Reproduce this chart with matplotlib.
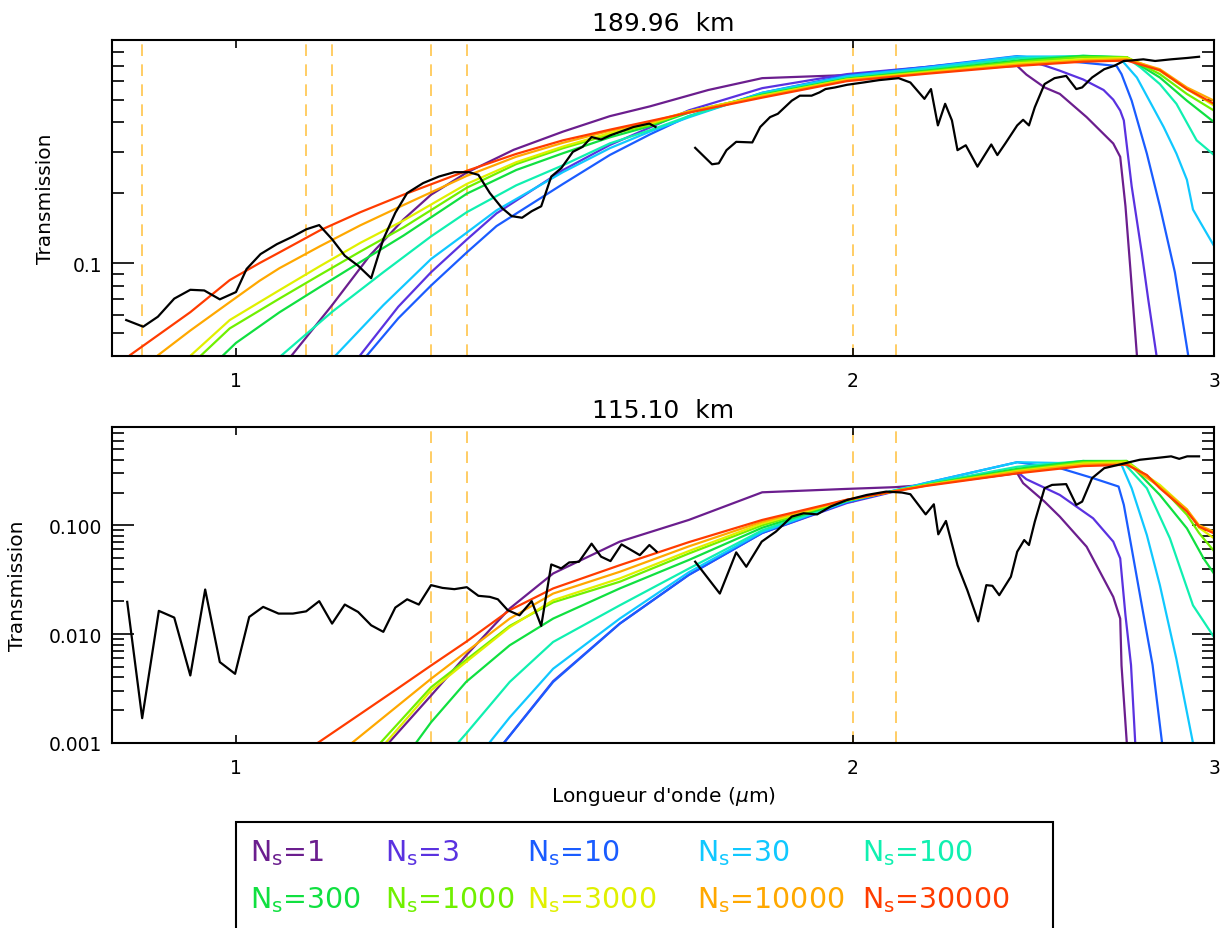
import numpy as np
import matplotlib
matplotlib.use("Agg")
import matplotlib.pyplot as plt
from matplotlib.ticker import FixedLocator, NullLocator, NullFormatter, FixedFormatter
from matplotlib.patches import Rectangle

plt.rcParams['font.family'] = ['DejaVu Sans']

# ---------------- data : top panel (189.96 km) ----------------
top_obs1_wl = [0.884, 0.901, 0.916, 0.933, 0.950, 0.965, 0.982, 1.000, 1.012, 1.028, 1.047, 1.066, 1.082, 1.098,
               1.114, 1.130, 1.147, 1.164, 1.180, 1.196, 1.212, 1.234, 1.256, 1.278, 1.299, 1.313, 1.330, 1.348,
               1.363, 1.379, 1.394, 1.409, 1.425, 1.441, 1.460, 1.476, 1.491, 1.507, 1.523, 1.563, 1.591, 1.602]
top_obs1_t = [0.0570, 0.0534, 0.0589, 0.0704, 0.0768, 0.0763, 0.0699, 0.0751, 0.0943, 0.1092, 0.1204, 0.1298, 0.1393,
              0.1453, 0.1264, 0.1074, 0.0974, 0.0861, 0.1264, 0.164, 0.1992, 0.2198, 0.2344, 0.2447, 0.2447, 0.2383,
              0.1992, 0.1722, 0.1587, 0.1562, 0.1666, 0.1749, 0.2344, 0.2544, 0.299, 0.314, 0.346, 0.3376, 0.352,
              0.382, 0.395, 0.382]
top_obs2_wl = [1.675, 1.707, 1.720, 1.735, 1.754, 1.786, 1.802, 1.822, 1.838, 1.867, 1.884, 1.909, 1.926, 1.939,
               1.960, 1.987, 2.023, 2.059, 2.105, 2.133, 2.167, 2.183, 2.200, 2.218, 2.235, 2.249, 2.270, 2.300,
               2.336, 2.352, 2.373, 2.405, 2.421, 2.437, 2.453, 2.480, 2.508, 2.541, 2.570, 2.587, 2.616, 2.652,
               2.681, 2.711, 2.735, 2.771, 2.808, 2.859, 2.911, 2.950]
top_obs2_t = [0.311, 0.2645, 0.267, 0.304, 0.33, 0.328, 0.382, 0.421, 0.435, 0.495, 0.52, 0.52, 0.537, 0.555,
              0.564, 0.579, 0.592, 0.606, 0.618, 0.592, 0.504, 0.555, 0.388, 0.48, 0.4075, 0.304, 0.319, 0.2584,
              0.3215, 0.2896, 0.3246, 0.388, 0.410, 0.388, 0.464, 0.583, 0.618, 0.632, 0.555, 0.564, 0.622, 0.675,
              0.697, 0.732, 0.736, 0.744, 0.732, 0.744, 0.754, 0.763]

top_n1_wl = [1.065, 1.114, 1.162, 1.207, 1.245, 1.296, 1.366, 1.444, 1.522, 1.592, 1.7, 1.806, 1.986, 2.171,
             2.405, 2.43, 2.48, 2.523, 2.6, 2.679, 2.70, 2.716, 2.731, 2.751]
top_n1_t = [0.0404, 0.066, 0.1074, 0.1536, 0.196, 0.2438, 0.305, 0.365, 0.425, 0.468, 0.55, 0.618, 0.637, 0.665,
            0.697, 0.64, 0.564, 0.529, 0.421, 0.3246, 0.2846, 0.175, 0.0943, 0.0405]
top_n3_wl = [1.150, 1.2, 1.245, 1.296, 1.34, 1.444, 1.522, 1.592, 1.663, 1.806, 1.986, 2.171, 2.405, 2.48, 2.523,
             2.59, 2.65, 2.679, 2.70, 2.711, 2.735, 2.766, 2.786, 2.812]
top_n3_t = [0.0404, 0.065, 0.0913, 0.126, 0.163, 0.25, 0.32, 0.38, 0.45, 0.56, 0.643, 0.69, 0.756, 0.70, 0.665,
            0.61, 0.55, 0.50, 0.449, 0.4075, 0.213, 0.111, 0.0704, 0.0405]
top_n10_wl = [1.159, 1.2, 1.245, 1.296, 1.34, 1.444, 1.522, 1.592, 1.663, 1.806, 1.986, 2.171, 2.405, 2.52, 2.59,
              2.689, 2.704, 2.735, 2.782, 2.823, 2.871, 2.914]
top_n10_t = [0.0404, 0.058, 0.0801, 0.111, 0.1439, 0.218, 0.29, 0.355, 0.425, 0.535, 0.635, 0.69, 0.768, 0.735,
             0.72, 0.697, 0.643, 0.495, 0.294, 0.175, 0.0913, 0.0405]
top_n30_wl = [1.119, 1.18, 1.245, 1.296, 1.34, 1.444, 1.522, 1.592, 1.663, 1.806, 1.986, 2.171, 2.405, 2.59, 2.70,
              2.751, 2.79, 2.835, 2.876, 2.91, 2.93, 2.955, 3.0]
top_n30_t = [0.0404, 0.066, 0.104, 0.1349, 0.168, 0.245, 0.31, 0.365, 0.42, 0.535, 0.63, 0.685, 0.765, 0.765, 0.75,
             0.622, 0.495, 0.382, 0.294, 0.2272, 0.1694, 0.1487, 0.1184]
top_n100_wl = [1.053, 1.114, 1.18, 1.245, 1.296, 1.37, 1.444, 1.522, 1.592, 1.663, 1.806, 1.986, 2.171, 2.405,
               2.59, 2.72, 2.763, 2.823, 2.876, 2.942, 3.0]
top_n100_t = [0.0404, 0.0618, 0.0913, 0.13, 0.165, 0.215, 0.262, 0.325, 0.37, 0.425, 0.53, 0.62, 0.675, 0.75,
              0.77, 0.756, 0.685, 0.583, 0.48, 0.335, 0.29]
top_n300_wl = [0.986, 1.0, 1.05, 1.099, 1.15, 1.207, 1.296, 1.37, 1.444, 1.522, 1.592, 1.663, 1.806, 1.986, 2.171,
               2.405, 2.59, 2.72, 2.823, 2.91, 3.0]
top_n300_t = [0.0404, 0.0455, 0.0615, 0.079, 0.101, 0.131, 0.198, 0.25, 0.295, 0.345, 0.385, 0.44, 0.525, 0.615,
              0.665, 0.735, 0.77, 0.76, 0.622, 0.495, 0.401]
top_n1000_wl = [0.962, 0.993, 1.05, 1.099, 1.15, 1.207, 1.296, 1.37, 1.444, 1.522, 1.592, 1.663, 1.806, 1.986,
                2.171, 2.405, 2.59, 2.72, 2.823, 2.91, 3.0]
top_n1000_t = [0.0404, 0.0525, 0.0704, 0.089, 0.112, 0.142, 0.21, 0.265, 0.31, 0.355, 0.39, 0.445, 0.52, 0.61,
               0.66, 0.725, 0.76, 0.76, 0.643, 0.529, 0.449]
top_n3000_wl = [0.951, 0.993, 1.05, 1.099, 1.15, 1.207, 1.296, 1.37, 1.444, 1.522, 1.592, 1.663, 1.806, 1.986,
                2.171, 2.405, 2.59, 2.72, 2.823, 2.91, 3.0]
top_n3000_t = [0.0404, 0.057, 0.0765, 0.097, 0.122, 0.152, 0.218, 0.27, 0.315, 0.36, 0.395, 0.445, 0.52, 0.61,
               0.655, 0.715, 0.745, 0.755, 0.664, 0.555, 0.472]
top_n10000_wl = [0.9165, 0.95, 0.993, 1.027, 1.05, 1.099, 1.15, 1.207, 1.296, 1.37, 1.444, 1.522, 1.592, 1.663,
                 1.806, 1.986, 2.171, 2.405, 2.59, 2.72, 2.823, 2.91, 3.0]
top_n10000_t = [0.0404, 0.0514, 0.068, 0.084, 0.095, 0.118, 0.145, 0.177, 0.236, 0.285, 0.327, 0.368, 0.40,
                0.445, 0.515, 0.605, 0.65, 0.705, 0.735, 0.745, 0.675, 0.564, 0.495]
top_n30000_wl = [0.888, 0.95, 0.993, 1.027, 1.05, 1.099, 1.15, 1.207, 1.296, 1.37, 1.444, 1.522, 1.592, 1.663,
                 1.806, 1.986, 2.171, 2.405, 2.59, 2.72, 2.823, 2.91, 3.0]
top_n30000_t = [0.0404, 0.0616, 0.0845, 0.1, 0.111, 0.138, 0.165, 0.196, 0.248, 0.293, 0.335, 0.372, 0.405,
                0.44, 0.51, 0.60, 0.645, 0.697, 0.727, 0.735, 0.668, 0.555, 0.48]

# ---------------- data : bottom panel (115.10 km) ----------------
bot_obs1_wl = [0.885, 0.900, 0.917, 0.933, 0.950, 0.966, 0.982, 0.999, 1.015, 1.031, 1.049, 1.066, 1.082, 1.098,
               1.114, 1.130, 1.147, 1.164, 1.180, 1.196, 1.212, 1.228, 1.245, 1.261, 1.278, 1.296, 1.313, 1.330,
               1.342, 1.357, 1.375, 1.394, 1.409, 1.425, 1.441, 1.454, 1.470, 1.491, 1.507, 1.523, 1.542, 1.574,
               1.591, 1.604]
bot_obs1_t = [0.0198, 0.00169, 0.01637, 0.0142, 0.00417, 0.0257, 0.00554, 0.00432, 0.0144, 0.0178, 0.01545,
              0.01545, 0.0162, 0.0201, 0.0125, 0.0187, 0.016, 0.01206, 0.0105, 0.01755, 0.0209, 0.0187, 0.0282,
              0.0266, 0.0259, 0.0270, 0.0225, 0.022, 0.0209, 0.0166, 0.0149, 0.0201, 0.0119, 0.0437, 0.0402,
              0.0456, 0.0462, 0.0678, 0.0515, 0.0469, 0.0668, 0.0532, 0.0659, 0.0573]
bot_obs2_wl = [1.675, 1.722, 1.754, 1.774, 1.805, 1.834, 1.867, 1.892, 1.921, 1.950, 1.987, 2.031, 2.076, 2.113,
               2.133, 2.170, 2.190, 2.201, 2.220, 2.249, 2.274, 2.302, 2.323, 2.339, 2.357, 2.388, 2.405, 2.424,
               2.437, 2.453, 2.480, 2.501, 2.541, 2.570, 2.587, 2.616, 2.652, 2.687, 2.717, 2.760, 2.808, 2.859,
               2.885, 2.911, 2.950]
bot_obs2_t = [0.0463, 0.0236, 0.0564, 0.0416, 0.0708, 0.0875, 0.1203, 0.129, 0.126, 0.1486, 0.171, 0.190, 0.204,
              0.20, 0.193, 0.126, 0.156, 0.0826, 0.1096, 0.043, 0.0253, 0.0131, 0.0282, 0.0278, 0.0228, 0.0337,
              0.0572, 0.0732, 0.0659, 0.108, 0.219, 0.235, 0.239, 0.154, 0.165, 0.271, 0.335, 0.355, 0.373, 0.40,
              0.414, 0.43, 0.408, 0.43, 0.43]

bot_n1_wl = [1.187, 1.245, 1.295, 1.36, 1.428, 1.539, 1.663, 1.806, 1.986, 2.096, 2.171, 2.405, 2.421, 2.48,
             2.523, 2.6, 2.679, 2.70, 2.704, 2.72]
bot_n1_t = [0.001, 0.00273, 0.00638, 0.0172, 0.0361, 0.0708, 0.112, 0.201, 0.216, 0.224, 0.235, 0.301, 0.244,
            0.165, 0.12, 0.0636, 0.022, 0.0139, 0.00515, 0.00101]
bot_n3_wl = [1.351, 1.428, 1.539, 1.663, 1.806, 1.986, 2.171, 2.405, 2.43, 2.523, 2.619, 2.679, 2.70, 2.716,
             2.733, 2.746]
bot_n3_t = [0.001, 0.0037, 0.0125, 0.035, 0.085, 0.16, 0.24, 0.31, 0.265, 0.19, 0.116, 0.0708, 0.0497, 0.0149,
            0.0052, 0.001]
bot_n10_wl = [1.351, 1.428, 1.539, 1.663, 1.806, 1.986, 2.171, 2.405, 2.523, 2.619, 2.695, 2.711, 2.735, 2.77,
              2.80, 2.83]
bot_n10_t = [0.001, 0.00364, 0.0125, 0.035, 0.085, 0.163, 0.245, 0.38, 0.335, 0.271, 0.227, 0.154, 0.0614,
             0.016, 0.0052, 0.001]
bot_n30_wl = [1.329, 1.36, 1.428, 1.539, 1.663, 1.806, 1.986, 2.171, 2.405, 2.59, 2.704, 2.735, 2.782, 2.823,
              2.876, 2.93]
bot_n30_t = [0.001, 0.00172, 0.00481, 0.0139, 0.037, 0.087, 0.165, 0.245, 0.38, 0.37, 0.36, 0.219, 0.0814,
             0.0282, 0.0059, 0.001]
bot_n100_wl = [1.283, 1.295, 1.36, 1.428, 1.539, 1.663, 1.806, 1.986, 2.171, 2.405, 2.59, 2.716, 2.782, 2.855,
               2.93, 3.0]
bot_n100_t = [0.001, 0.00122, 0.00364, 0.00848, 0.0184, 0.04, 0.09, 0.167, 0.24, 0.345, 0.39, 0.36, 0.219,
              0.076, 0.0184, 0.0094]
bot_n300_wl = [1.224, 1.245, 1.295, 1.36, 1.428, 1.539, 1.663, 1.806, 1.986, 2.171, 2.405, 2.59, 2.72, 2.823,
               2.91, 2.965, 3.0]
bot_n300_t = [0.001, 0.00155, 0.00364, 0.0079, 0.0139, 0.0263, 0.048, 0.095, 0.168, 0.236, 0.33, 0.39, 0.39,
              0.19, 0.0938, 0.0497, 0.036]
bot_n1000_wl = [1.176, 1.245, 1.295, 1.36, 1.428, 1.539, 1.663, 1.806, 1.986, 2.171, 2.405, 2.59, 2.72, 2.823,
                2.91, 2.95, 3.0]
bot_n1000_t = [0.001, 0.00325, 0.0058, 0.0119, 0.0196, 0.0303, 0.055, 0.10, 0.17, 0.235, 0.32, 0.38, 0.39,
               0.23, 0.125, 0.085, 0.058]
bot_n3000_wl = [1.183, 1.245, 1.295, 1.36, 1.428, 1.539, 1.663, 1.806, 1.986, 2.171, 2.405, 2.59, 2.72, 2.823,
                2.91, 2.95, 3.0]
bot_n3000_t = [0.001, 0.00304, 0.00555, 0.0116, 0.0205, 0.0325, 0.058, 0.104, 0.17, 0.233, 0.315, 0.37, 0.38,
               0.235, 0.14, 0.095, 0.076]
bot_n10000_wl = [1.139, 1.245, 1.295, 1.36, 1.428, 1.539, 1.663, 1.806, 1.986, 2.171, 2.405, 2.59, 2.72, 2.823,
                 2.91, 2.95, 3.0]
bot_n10000_t = [0.001, 0.00389, 0.00686, 0.0139, 0.0236, 0.0374, 0.064, 0.108, 0.171, 0.232, 0.31, 0.36, 0.37,
                0.225, 0.14, 0.10, 0.0875]
bot_n30000_wl = [1.096, 1.15, 1.196, 1.245, 1.295, 1.36, 1.428, 1.539, 1.663, 1.806, 1.986, 2.171, 2.405, 2.59,
                 2.72, 2.782, 2.823, 2.91, 2.95, 3.0]
bot_n30000_t = [0.001, 0.00185, 0.00306, 0.00515, 0.0085, 0.0166, 0.0263, 0.043, 0.07, 0.112, 0.172, 0.23, 0.30,
                0.35, 0.36, 0.29, 0.219, 0.134, 0.097, 0.0844]

ns_labels = ['1', '3', '10', '30', '100', '300', '1000', '3000', '10000', '30000']
ns_colors = ['#6b1e8e', '#5a32e0', '#1a5cff', '#10c8ff', '#10f0b0',
             '#10e040', '#70f000', '#e0f000', '#ffa800', '#ff3c00']

top_dash_wl = [0.90, 1.082, 1.114, 1.245, 1.296, 2.0, 2.1]
bot_dash_wl = [1.245, 1.296, 2.0, 2.1]

top_models = [(top_n1_wl, top_n1_t), (top_n3_wl, top_n3_t), (top_n10_wl, top_n10_t), (top_n30_wl, top_n30_t),
              (top_n100_wl, top_n100_t), (top_n300_wl, top_n300_t), (top_n1000_wl, top_n1000_t),
              (top_n3000_wl, top_n3000_t), (top_n10000_wl, top_n10000_t), (top_n30000_wl, top_n30000_t)]
bot_models = [(bot_n1_wl, bot_n1_t), (bot_n3_wl, bot_n3_t), (bot_n10_wl, bot_n10_t), (bot_n30_wl, bot_n30_t),
              (bot_n100_wl, bot_n100_t), (bot_n300_wl, bot_n300_t), (bot_n1000_wl, bot_n1000_t),
              (bot_n3000_wl, bot_n3000_t), (bot_n10000_wl, bot_n10000_t), (bot_n30000_wl, bot_n30000_t)]

W, H = 1228, 929
fig = plt.figure(figsize=(W / 100, H / 100), dpi=100)
fig.patch.set_facecolor('white')

def fx(px):
    return px / W

def fy(py):
    return 1 - py / H

ax1 = fig.add_axes([fx(112), fy(357), fx(1214) - fx(112), fy(41) - fy(357)])
ax2 = fig.add_axes([fx(112), fy(744), fx(1214) - fx(112), fy(428) - fy(744)])

dash_color = '#ffc54a'

def style(ax, ylim, majors, major_labels, minors, title, label_x):
    ax.set_xscale('log')
    ax.set_yscale('log')
    ax.set_xlim(0.87, 3.0)
    ax.set_ylim(*ylim)
    ax.xaxis.set_major_locator(FixedLocator([1, 2, 3]))
    ax.xaxis.set_major_formatter(FixedFormatter(['1', '2', '3']))
    ax.xaxis.set_minor_locator(NullLocator())
    ax.yaxis.set_major_locator(FixedLocator(majors))
    ax.yaxis.set_major_formatter(FixedFormatter(major_labels))
    ax.yaxis.set_minor_locator(FixedLocator(minors))
    ax.yaxis.set_minor_formatter(NullFormatter())
    ax.tick_params(axis='x', which='major', direction='in', length=6, width=1.2,
                   top=True, bottom=True, labelsize=13.5, pad=11)
    ax.tick_params(axis='y', which='major', direction='in', length=16, width=1.2,
                   left=True, right=True, labelsize=13.5, pad=7)
    ax.tick_params(axis='y', which='minor', direction='in', length=8.5, width=1.2,
                   left=True, right=True)
    for s in ax.spines.values():
        s.set_linewidth(1.5)
    ax.set_title(title, fontsize=18, pad=7)
    ax.set_ylabel('Transmission', fontsize=14.5)
    ax.yaxis.set_label_coords(label_x, 0.5)

top_minors = [0.05, 0.06, 0.07, 0.08, 0.09, 0.2, 0.3, 0.4, 0.5, 0.6, 0.7, 0.8]
bot_minors = [m * d for d in (0.001, 0.01, 0.1) for m in range(2, 10) if m * d < 0.8]

style(ax1, (0.04, 0.9), [0.1], ['0.1'], top_minors, '189.96  km', -0.052)
style(ax2, (0.001, 0.8), [0.001, 0.01, 0.1], ['0.001', '0.010', '0.100'], bot_minors, '115.10  km', -0.077)

for ax, dashes in ((ax1, top_dash_wl), (ax2, bot_dash_wl)):
    for w in dashes:
        ax.axvline(w, color=dash_color, lw=1.2, ls=(0, (7, 5)), zorder=1)

for ax, models in ((ax1, top_models), (ax2, bot_models)):
    for (wl, t), c in zip(models, ns_colors):
        ax.plot(wl, t, color=c, lw=1.6, zorder=2, solid_joinstyle='round')

ax1.plot(top_obs1_wl, top_obs1_t, color='black', lw=1.6, zorder=3)
ax1.plot(top_obs2_wl, top_obs2_t, color='black', lw=1.6, zorder=3)
ax2.plot(bot_obs1_wl, bot_obs1_t, color='black', lw=1.6, zorder=3)
ax2.plot(bot_obs2_wl, bot_obs2_t, color='black', lw=1.6, zorder=3)

fig.text(fx(663), fy(797), r"Longueur d'onde ($\mu$m)", fontsize=14.5, ha='center', va='center')

# legend box
fig.patches.append(Rectangle((fx(236), fy(935)), fx(1053) - fx(236), fy(823) - fy(935),
                             transform=fig.transFigure, fill=False, edgecolor='black', lw=1.5))
leg_x = [250, 385, 527, 697, 862]
leg_y = [853, 900]
for i, (lab, c) in enumerate(zip(ns_labels, ns_colors)):
    r, k = divmod(i, 5)
    fig.text(fx(leg_x[k]), fy(leg_y[r]), r'N$_{\mathrm{s}}$=' + lab, color=c, fontsize=20.5,
             ha='left', va='center')

fig.savefig('out.png', dpi=100, facecolor='white')
